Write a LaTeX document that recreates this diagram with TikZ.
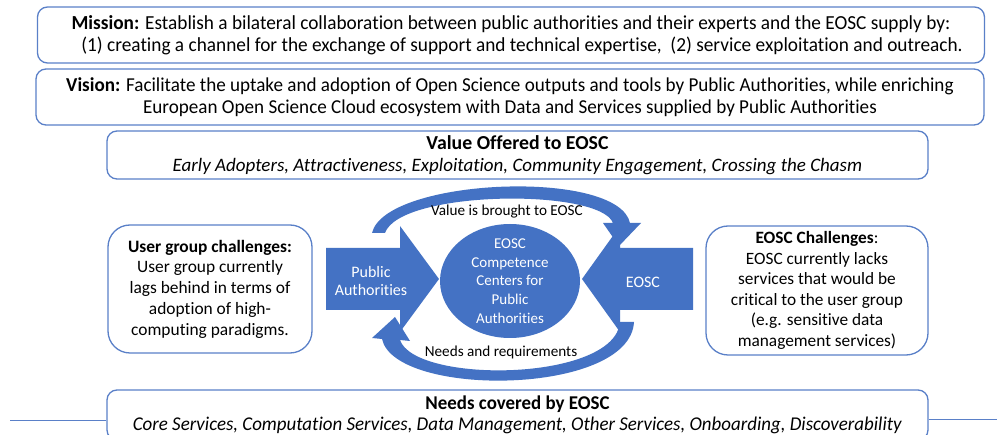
\documentclass[tikz,border=0pt]{standalone}
\usepackage{fontspec}
\setmainfont{Carlito}[Ligatures={NoCommon,NoContextual,NoRare},Contextuals=NoAlternate]
\newfontfamily\condfont[FakeStretch=0.97,Ligatures={NoCommon,NoContextual,NoRare},Contextuals=NoAlternate]{Carlito}
\usetikzlibrary{shapes.geometric}
\definecolor{eblue}{HTML}{4472C4}
\definecolor{lblue}{HTML}{5A80C8}
\begin{document}
\begin{tikzpicture}[x=1pt,y=-1pt,
  box/.style={draw=lblue, line width=1.3pt, rounded corners=10pt, fill=white, inner sep=0pt, align=center, text=black},
  sbox/.style={box, rounded corners=22pt},
  wtext/.style={text=white, align=center, inner sep=0pt},
  lbl/.style={text=black, inner sep=0pt, font={\fontsize{15.2}{18}\selectfont}},
  hline/.style={draw=lblue, line width=1pt}]
\useasboundingbox (0,0) rectangle (997,435);
\clip (0,0) rectangle (997,435);
\fill[white] (0,0) rectangle (997,435);

% top boxes
\node[box, minimum width=947pt, minimum height=56pt, font={\condfont\fontsize{19.9}{21.5}\selectfont}] (mission) at (511,35)
 {\textbf{Mission:} Establish a bilateral collaboration between public authorities and their experts and the EOSC supply by:\\
  \hspace*{22pt}(1) creating a channel for the exchange of support and technical expertise,\ \ (2) service exploitation and outreach.};
\node[box, minimum width=948pt, minimum height=56pt, font={\condfont\fontsize{19.7}{21.5}\selectfont}] (vision) at (510,97)
 {\textbf{Vision:} Facilitate the uptake and adoption of Open Science outputs and tools by Public Authorities, while enriching\\
  European Open Science Cloud ecosystem with Data and Services supplied by Public Authorities};
\node[box, minimum width=821pt, minimum height=48pt, font={\fontsize{19}{22}\selectfont}] (value) at (517.5,155)
 {{\fontsize{19.8}{22}\selectfont\textbf{Value Offered to EOSC}}\\\textit{Early Adopters, Attractiveness, Exploitation, Community Engagement, Crossing the Chasm}};

% side boxes
\node[sbox, minimum width=204pt, minimum height=128pt, font={\fontsize{17.4}{20.7}\selectfont}] (user) at (210,289)
 {\textbf{User group challenges:}\\User group currently\\lags behind in terms of\\adoption of high-\\computing paradigms.};
\node[sbox, minimum width=222pt, minimum height=129pt, font={\fontsize{17.3}{20.5}\selectfont}] (eoscch) at (817,290.5)
 {\textbf{EOSC Challenges}:\\EOSC currently lacks\\services that would be\\critical to the user group\\(e.g. sensitive data\\management services)};

% bottom box and lines
\node[box, minimum width=821pt, minimum height=50pt, font={\condfont\fontsize{19.5}{21}\selectfont}] (needs) at (517.5,415)
 {\textbf{Needs covered by EOSC}\\\textit{Core Services, Computation Services, Data Management, Other Services, Onboarding, Discoverability}};
\coordinate (lend) at (10,421);
\coordinate (rend) at (997,420);
\draw[hline] (lend) -- (lend -| needs.west);
\draw[hline] (rend -| needs.east) -- (rend);

% central block arrows
\fill[eblue] (326,248) -- (400,248) -- (400,226) -- (439,279) -- (400,332) -- (400,310) -- (326,310) -- cycle;
\fill[eblue] (693,248) -- (620,248) -- (620,226) -- (582,279) -- (620,332) -- (620,310) -- (693,310) -- cycle;
\node[ellipse, fill=eblue, minimum width=140pt, minimum height=114pt, inner sep=0pt] (ccshape) at (510,281) {};
\node[wtext, font={\fontsize{16}{18.5}\selectfont}] (pa) at (371,281) {Public\\Authorities};
\node[wtext, font={\fontsize{16}{18.5}\selectfont}] (eosc) at (643,282) {EOSC};
\node[wtext, font={\fontsize{15}{18.7}\selectfont}] (cc) at (ccshape) {EOSC\\Competence\\Centers for\\Public\\Authorities};

% curved arrows
\fill[eblue] (372,233) .. controls (385,178) and (618,168) .. (630,223) -- (641,223) -- (619,246) -- (603,223) -- (613,223)
  .. controls (600,188) and (400,190) .. (385,233) -- cycle;
\fill[eblue] (382,339) .. controls (395,398) and (630,396) .. (634,322) -- (620,322)
  .. controls (615,382) and (415,384) .. (400,340) -- (410,341) -- (395,317) -- (372,338) -- cycle;
\node[lbl] (vlab) at (507,212) {Value is brought to EOSC};
\node[lbl] (nlab) at (501,352) {Needs and requirements};
\end{tikzpicture}
\end{document}
